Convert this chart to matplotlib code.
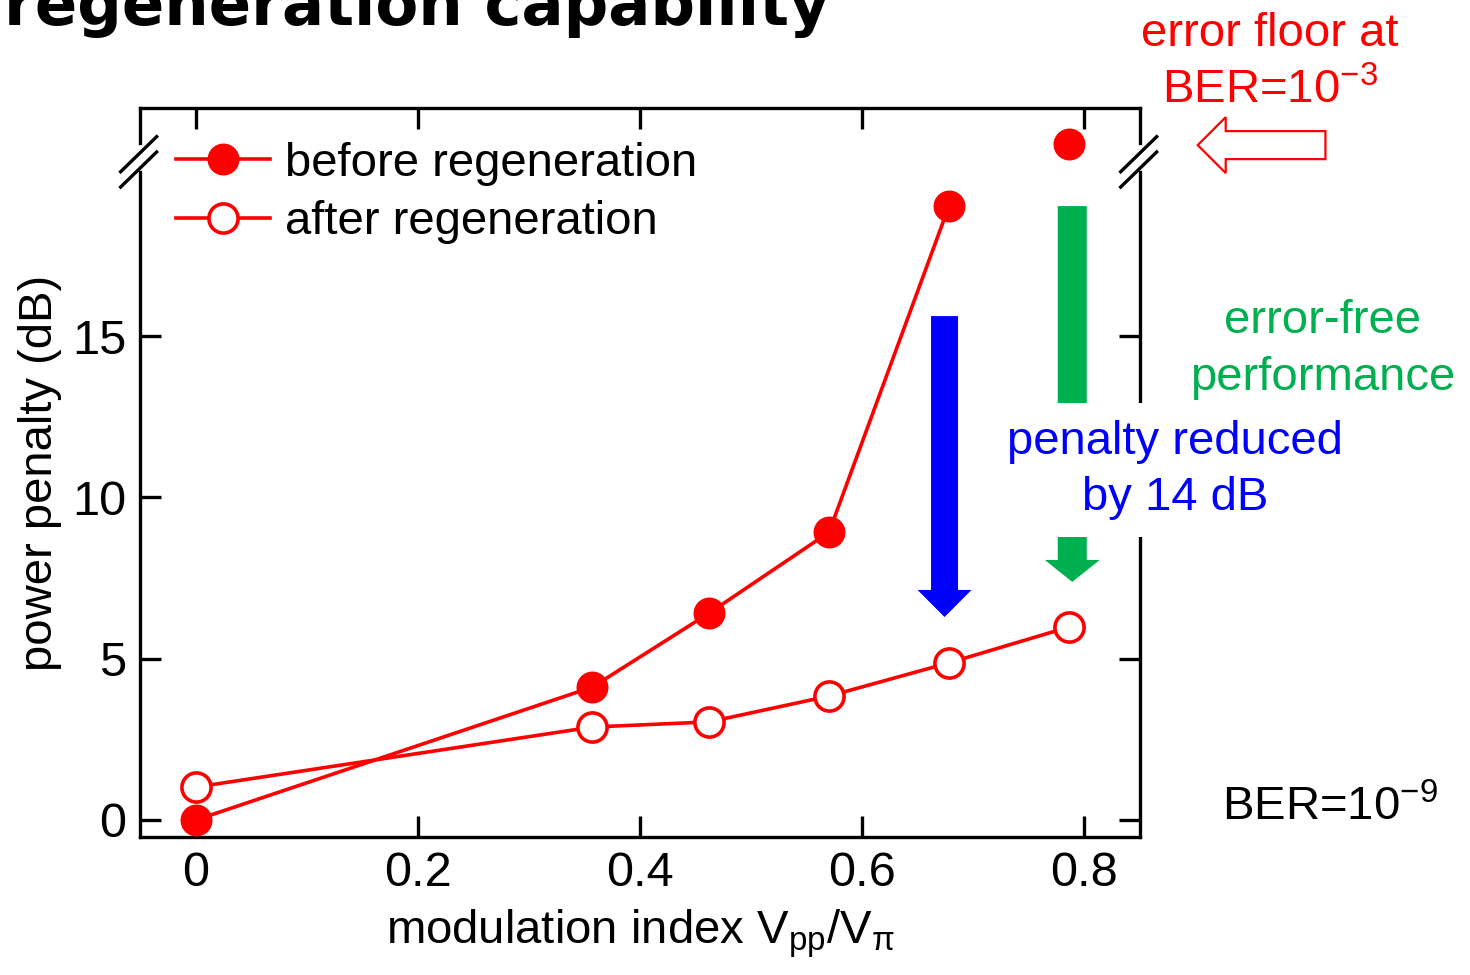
import matplotlib.pyplot as plt
from matplotlib.lines import Line2D
from matplotlib.patches import FancyArrow

plt.rcParams["font.family"] = ["Liberation Sans", "DejaVu Sans"]
plt.rcParams["mathtext.fontset"] = "custom"
plt.rcParams["mathtext.rm"] = "Liberation Sans"
plt.rcParams["mathtext.it"] = "Liberation Sans:italic"
plt.rcParams["mathtext.default"] = "regular"

RED = "#ff0000"
GREEN = "#00b050"
BLUE = "#0000ff"

# power penalty vs modulation index
index_before = [0.0, 0.357, 0.462, 0.570, 0.678]
penalty_before = [0.0, 4.12, 6.41, 8.92, 19.03]
index_after = [0.0, 0.357, 0.462, 0.570, 0.678, 0.786]
penalty_after = [1.02, 2.88, 3.04, 3.84, 4.87, 5.98]
# error floor point (off the broken scale)
floor_index = [0.786]
floor_penalty = [20.95]

x_ticks = [0, 0.2, 0.4, 0.6, 0.8]
x_tick_labels = ["0", "0.2", "0.4", "0.6", "0.8"]
y_ticks = [0, 5, 10, 15]

FS = 34

fig = plt.figure(figsize=(14.7, 9.75), dpi=100)
ax = fig.add_axes([0.0952, 0.1415, 0.6803, 0.7477])
ax.set_xlim(-0.0505, 0.850)
ax.set_ylim(-0.53, 22.07)

ax.plot(index_before, penalty_before, color=RED, lw=2.6, marker="o", ms=22,
        mfc=RED, mec=RED, label="before regeneration", zorder=4)
ax.plot(floor_index, floor_penalty, ls="none", marker="o", ms=22, mfc=RED, mec=RED,
        zorder=4)
ax.plot(index_after, penalty_after, color=RED, lw=2.6, marker="o", ms=21,
        mfc="white", mec=RED, mew=2.6, label="after regeneration", zorder=4)

ax.set_xticks(x_ticks)
ax.set_xticklabels(x_tick_labels)
ax.set_yticks(y_ticks)
ax.tick_params(direction="in", length=15, width=2.4, top=True, right=True,
               labelsize=35, pad=10)

# broken left/right axes
for side in ("left", "right"):
    ax.spines[side].set_visible(False)
for sp in ("top", "bottom"):
    ax.spines[sp].set_linewidth(2.4)
for x0 in (0.0, 1.0):
    ax.add_line(Line2D([x0, x0], [0.0, 0.912], transform=ax.transAxes, color="black",
                       lw=2.4, clip_on=False, solid_capstyle="projecting"))
    ax.add_line(Line2D([x0, x0], [0.952, 1.0], transform=ax.transAxes, color="black",
                       lw=2.4, clip_on=False, solid_capstyle="projecting"))
    for dy in (0.0, -0.021):
        ax.add_line(Line2D([x0 - 0.0193, x0 + 0.0167], [0.9126 + dy, 0.9607 + dy],
                           transform=ax.transAxes, color="black", lw=2.4,
                           clip_on=False))

# arrows
ax.add_patch(FancyArrow(0.674, 15.62, 0, 6.29 - 15.62, width=0.0243, head_width=0.0486,
                        head_length=0.84, length_includes_head=True, color=BLUE,
                        lw=0, zorder=3))
ax.add_patch(FancyArrow(0.789, 19.03, 0, 7.38 - 19.03, width=0.0261, head_width=0.0495,
                        head_length=0.68, length_includes_head=True, color=GREEN,
                        lw=0, zorder=3))
ax.add_patch(FancyArrow(1.017, 20.92, 0.902 - 1.017, 0, width=0.868, head_width=1.735,
                        head_length=0.0252, length_includes_head=True, fc="white",
                        ec=RED, lw=1.6, clip_on=False, zorder=3))

ax.legend(loc="upper left", bbox_to_anchor=(0.036, 0.954), frameon=False,
          fontsize=FS, handlelength=2.0, handletextpad=0.3, labelspacing=0.31,
          borderpad=0, borderaxespad=0)

ax.set_ylabel("power penalty (dB)", fontsize=FS)
ax.yaxis.set_label_coords(-0.078, 0.5)
ax.set_xlabel(r"modulation index V$_{pp}$/V$_{\pi}$", fontsize=FS, va="top")
ax.xaxis.set_label_coords(0.5, -0.097)

H = 975.0
fig.text(0.003, 1 - 25 / H, "regeneration capability", fontsize=45,
         fontweight="bold", family="DejaVu Sans", va="baseline")
fig.text(1270 / 1470, 1 - 46 / H, "error floor at", color=RED, fontsize=FS,
         ha="center", va="baseline")
fig.text(1270 / 1470, 1 - 103 / H, r"BER=10$^{-3}$", color=RED, fontsize=FS,
         ha="center", va="baseline")
fig.text(1323 / 1470, 1 - 333 / H, "error-free", color=GREEN, fontsize=FS,
         ha="center", va="baseline")
fig.text(1323 / 1470, 1 - 390 / H, "performance", color=GREEN, fontsize=FS,
         ha="center", va="baseline")
fig.text(1175 / 1470, 1 - 470 / H, "penalty reduced\nby 14 dB", color=BLUE, fontsize=FS,
         ha="center", va="center", multialignment="center", linespacing=1.35,
         bbox=dict(boxstyle="square,pad=0.36", fc="white", ec="none"))
fig.text(1222 / 1470, 1 - 820 / H, r"BER=10$^{-9}$", color="black", fontsize=FS,
         ha="left", va="baseline")

fig.savefig("out.png", dpi=100)
